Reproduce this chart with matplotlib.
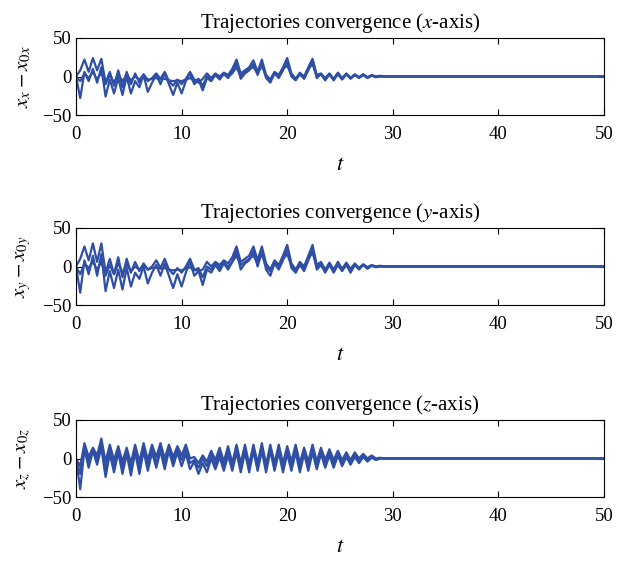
import numpy as np
import matplotlib
matplotlib.use('Agg')
from matplotlib import pyplot as plt

plt.rcParams['font.family'] = ['Liberation Serif', 'DejaVu Serif']
plt.rcParams['mathtext.fontset'] = 'stix'

# sample times (every 0.4 up to 30), then the flat tail to 50
t = [round(0.4 * i, 1) for i in range(76)]
t_end = 50

# x-axis error trajectories
xa = [0, 8, 22, 6, 24, 8, 23, -8, 6, -12,
      8, -14, 6, -10, 4, -8, 3, -6, -2, 4,
      -3, 6, -6, -12, -4, -10, -3, 6, -4, -8,
      -3, 4, -2, 4, 0, 5, 2, 10, 22, 4,
      8, 12, 21, 6, 22, 2, -4, 6, 2, 12,
      24, 4, -3, 5, 0, 12, 23, 2, 4, -2,
      4, -3, 5, -2, 4, -2, 3, -1, 3, -1,
      2, 0, 1, 0, 0, 0]
xb = [0, -28, 6, -6, 10, -8, 12, -26, -4, -22,
      -2, -24, 0, -22, -6, -14, 2, -20, -8, 2,
      -10, 4, -10, -24, -8, -22, -6, 4, -10, -4,
      -18, -2, -6, 2, -4, 3, -2, 6, 18, -3,
      4, 8, 16, 2, 18, -2, -8, 4, -2, 8,
      20, 0, -5, 3, -3, 8, 20, -2, 3, -5,
      3, -5, 3, -4, 3, -3, 2, -2, 2, -2,
      1, -1, 0, 0, 0, 0]
xc = [0, -6, 4, -2, 6, -4, 5, -10, 2, -8,
      3, -6, 2, -5, 0, -4, 2, -4, -3, -2,
      -4, -3, -5, -6, -5, -6, -4, -2, -6, -3,
      -12, 0, -4, 3, -2, 4, 0, 4, 12, 0,
      6, 10, 12, 4, 14, 0, -5, 5, 0, 10,
      14, 2, -4, 4, -2, 10, 16, 0, 3, -4,
      3, -4, 4, -3, 3, -2, 2, -1, 2, -1,
      1, 0, 0, 0, 0, 0]

# y-axis error trajectories
ya = [0, 10, 26, 8, 30, 6, 30, -8, 10, -10,
      12, -14, 10, -8, 6, -6, 4, -4, 0, 8,
      -2, 10, -4, -10, -2, -8, 0, 10, -4, -6,
      -4, 6, 0, 6, 2, 8, 4, 12, 26, 6,
      10, 14, 26, 8, 26, 4, -4, 8, 2, 14,
      28, 4, -4, 6, 0, 14, 28, 2, 6, -4,
      5, -4, 6, -3, 5, -3, 4, -2, 3, -1,
      2, 0, 1, 0, 0, 0]
yb = [0, -34, 8, -10, 14, -12, 16, -32, -6, -28,
      -4, -30, -2, -26, -8, -16, 0, -22, -8, 2,
      -12, 4, -12, -28, -10, -26, -8, 6, -12, -6,
      -24, -4, -8, 2, -6, 4, -4, 6, 20, -4,
      4, 8, 20, 0, 20, -4, -12, 4, -4, 8,
      22, -2, -8, 2, -6, 8, 22, -4, 2, -8,
      2, -8, 2, -6, 2, -8, 2, -4, 2, -3,
      1, -1, 0, 0, 0, 0]
yc = [0, -10, 4, -2, 6, -4, 6, -12, 2, -10,
      4, -8, 3, -6, 0, -4, 2, -4, -2, -1,
      -3, -2, -4, -5, -4, -5, -3, -1, -5, -2,
      -14, 0, -4, 4, -2, 5, 0, 6, 14, 2,
      6, 10, 14, 4, 16, 0, -6, 6, 0, 10,
      16, 2, -5, 4, -2, 10, 18, 0, 3, -5,
      3, -5, 4, -4, 3, -3, 2, -2, 2, -1,
      1, 0, 0, 0, 0, 0]

# z-axis error trajectories
za = [0, -10, 20, 2, 14, 4, 26, -4, 18, -2,
      16, -4, 14, -6, 18, -4, 20, -2, 18, 2,
      20, 0, 18, 2, 16, 4, 18, 0, 2, -6,
      4, -4, 10, -2, 14, -4, 16, -6, 18, -6,
      18, -8, 18, -6, 20, -8, 18, -6, 18, -6,
      16, -4, 18, -6, 14, -4, 18, -4, 14, -2,
      12, -2, 10, -2, 8, -2, 8, 0, 6, 0,
      4, 0, 1, 0, 0, 0]
zb = [0, -40, 12, -12, 10, -8, 14, -24, 6, -18,
      8, -20, 6, -22, 8, -20, 10, -16, 8, -12,
      10, -14, 10, -10, 8, -10, 6, -14, -4, -20,
      -6, -18, 0, -14, 2, -16, 4, -16, 8, -18,
      8, -18, 10, -16, 10, -18, 10, -16, 8, -18,
      6, -16, 8, -18, 6, -16, 8, -14, 6, -12,
      4, -12, 4, -10, 2, -8, 2, -6, 2, -4,
      1, -2, 0, 0, 0, 0]
zc = [0, -20, 16, -4, 12, -2, 20, -14, 12, -10,
      12, -12, 10, -14, 12, -12, 14, -8, 12, -6,
      14, -6, 14, -4, 12, -2, 12, -6, -2, -12,
      0, -10, 6, -8, 8, -10, 10, -10, 12, -12,
      12, -12, 14, -10, 14, -12, 14, -10, 12, -12,
      10, -10, 12, -12, 10, -10, 12, -8, 10, -6,
      8, -6, 6, -6, 4, -4, 4, -3, 3, -2,
      2, -1, 0, 0, 0, 0]

panels = [('x', [xa, xb, xc]), ('y', [ya, yb, yc]), ('z', [za, zb, zc])]
tops = [38, 228, 420]
col = '#2f4fa5'

fig = plt.figure(figsize=(6.18, 5.65), dpi=100)
for k in range(3):
    name, trajs = panels[k]
    top = 1 - tops[k] / 565.0
    ax = fig.add_axes([76 / 618.0, top - 77 / 565.0, 528 / 618.0, 77 / 565.0])
    for tr in trajs:
        ax.plot(t + [t_end], tr + [0], color=col, lw=1.6)
    ax.set_xlim(0, 50)
    ax.set_ylim(-50, 50)
    ax.set_xticks([0, 10, 20, 30, 40, 50])
    ax.set_yticks([-50, 0, 50])
    ax.tick_params(direction='in', top=True, right=True, labelsize=13.5, length=4)
    ax.tick_params(axis='x', pad=8)
    ax.set_title('Trajectories convergence ($' + name + '$-axis)', fontsize=15, pad=7)
    ax.set_xlabel('$t$', fontsize=16, labelpad=9)
    ax.set_ylabel('$x_' + name + ' - x_{0' + name + '}$', fontsize=15, labelpad=6)

plt.savefig('out.png', dpi=100)
plt.close()
